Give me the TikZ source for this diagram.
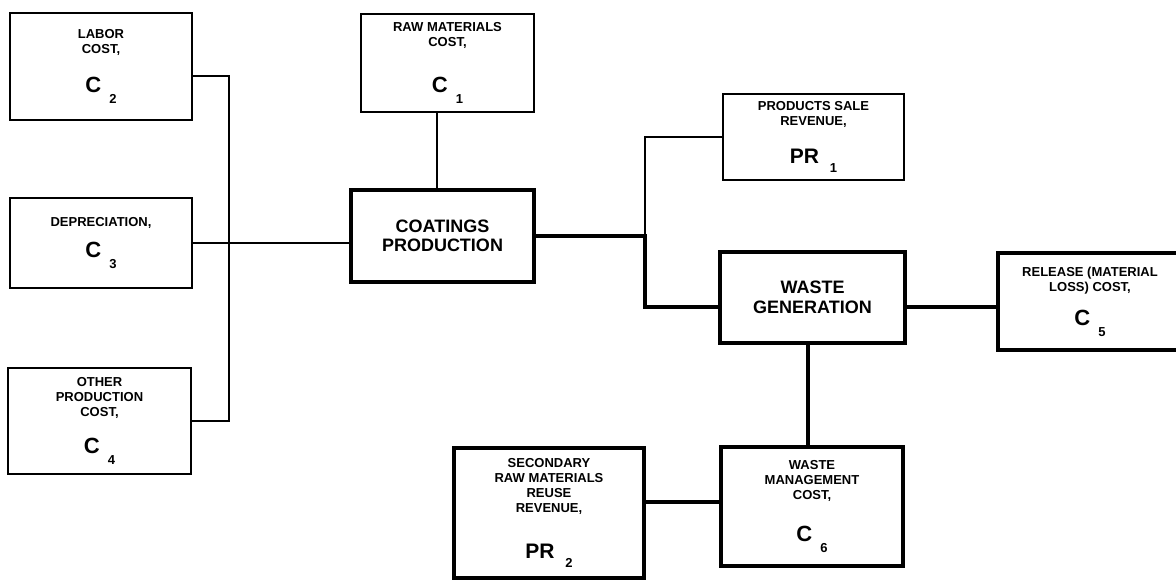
\documentclass[tikz,border=0pt]{standalone}
\usepackage{fontspec}
\newfontfamily\lab{Liberation Sans}
\newcommand\smf{\lab\bfseries\fontsize{13}{15}\selectfont}
\newcommand\mainf{\lab\bfseries\fontsize{18}{19.5}\selectfont}
\newcommand\cs[2]{{\fontsize{22}{22}\selectfont #1}\hspace{8pt}\raisebox{-11pt}{\fontsize{13}{13}\selectfont #2}}
\newcommand\prs[2]{{\fontsize{21}{21}\selectfont #1}\hspace{11pt}\raisebox{-9pt}{\fontsize{13}{13}\selectfont #2}}
\begin{document}
\begin{tikzpicture}[x=1pt,y=-1pt,
  box/.style={draw, line width=2pt, inner sep=0pt, align=center, font=\smf},
  tbox/.style={box, line width=4pt},
  wire/.style={line width=1.8pt},
  twire/.style={line width=3.6pt}]
\useasboundingbox (0,0) rectangle (1176,582);

\node[box, minimum width=182pt, minimum height=107pt] (labor) at (101,66.5)
  {LABOR\\COST,\\[21pt]\cs{C}{2}};
\node[box, minimum width=182pt, minimum height=90pt] (depr) at (101,243)
  {DEPRECIATION,\\[13pt]\cs{C}{3}};
\node[box, minimum width=183pt, minimum height=106pt] (other) at (99.5,421)
  {OTHER\\PRODUCTION\\COST,\\[18pt]\cs{C}{4}};
\node[box, minimum width=173pt, minimum height=98pt] (raw) at (447.5,63)
  {RAW MATERIALS\\COST,\\[27pt]\cs{C}{1}};
\node[tbox, font=\mainf, minimum width=183pt, minimum height=92pt] (coat) at (442.5,236)
  {COATINGS\\PRODUCTION};
\node[box, minimum width=181pt, minimum height=86pt] (prod) at (813.5,137)
  {PRODUCTS SALE\\REVENUE,\\[20pt]\prs{PR}{1}};
\node[tbox, font=\mainf, minimum width=185pt, minimum height=91pt] (wgen) at (812.5,297.5)
  {WASTE\\GENERATION};
\node[tbox, minimum width=184pt, minimum height=97pt] (rel) at (1090,301.5)
  {RELEASE (MATERIAL\\LOSS) COST,\\[15pt]\cs{C}{5}};
\node[tbox, minimum width=182pt, minimum height=119pt] (wmgmt) at (812,506.5)
  {WASTE\\MANAGEMENT\\COST,\\[23pt]\cs{C}{6}};
\node[tbox, minimum width=190pt, minimum height=130pt] (sec) at (549,513)
  {SECONDARY\\RAW MATERIALS\\REUSE\\REVENUE,\\[28pt]\prs{PR}{2}};

\coordinate (bus) at (229,244);
\coordinate (j) at (645,236);
\draw[wire] ([yshift=-9.5pt]labor.east) -| (bus) |- (other.east);
\draw[wire] (depr.east) -- (depr.east -| coat.west);
\draw[wire] ([xshift=-10.5pt]raw.south) coordinate (rs) -- (rs |- coat.north);
\draw[twire] (coat.east) -- (j) |- ([yshift=-9.5pt]wgen.west);
\draw[wire] (j) |- (prod.west);
\draw[twire] ([yshift=-9.5pt]wgen.east) coordinate (we) -- (we -| rel.west);
\draw[twire] ([xshift=-4.5pt]wgen.south) coordinate (ws) -- (ws |- wmgmt.north);
\draw[twire] ([yshift=4.5pt]wmgmt.west) coordinate (mw) -- (mw -| sec.east);
\end{tikzpicture}
\end{document}
